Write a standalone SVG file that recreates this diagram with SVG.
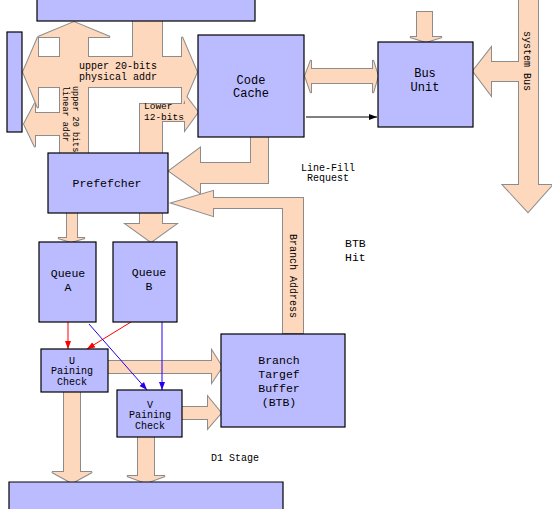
<svg xmlns="http://www.w3.org/2000/svg" xmlns:xlink="http://www.w3.org/1999/xlink" width="552" height="515" viewBox="0 0 552 515">
<style>
  .box { fill: #BBBBFF; stroke: #000; stroke-width: 1.2; }
  .fat { fill: #FDD8BD; }
  .fatline { fill: none; stroke: #8C8C8C; stroke-width: 2; stroke-linejoin: miter; }
  .t { font-family: "Liberation Mono", "DejaVu Sans Mono", monospace; fill: #000; text-anchor: middle; }
  .s10 { font-size: 10px; }
  .s11 { font-size: 11.5px; }
  .s12 { font-size: 12px; }
  .red { stroke: #FF0000; stroke-width: 1; fill: none; }
  .blue { stroke: #2200EE; stroke-width: 1; fill: none; }
  .blk { stroke: #000; stroke-width: 1; fill: none; }
</style>
<defs>
  <marker id="mr" viewBox="0 0 8 8" refX="8" refY="4" markerWidth="8" markerHeight="8" markerUnits="userSpaceOnUse" orient="auto">
    <path d="M0,1 L8,4 L0,7 Z" fill="#FF0000"/>
  </marker>
  <marker id="mb" viewBox="0 0 8 8" refX="8" refY="4" markerWidth="8" markerHeight="8" markerUnits="userSpaceOnUse" orient="auto">
    <path d="M0,1 L8,4 L0,7 Z" fill="#2200EE"/>
  </marker>
  <marker id="mk" viewBox="0 0 8 8" refX="8" refY="4" markerWidth="8" markerHeight="8" markerUnits="userSpaceOnUse" orient="auto">
    <path d="M0,1 L8,4 L0,7 Z" fill="#000"/>
  </marker>
  <path id="a1" d="M38,57 L182,57 L182,37 L197,72 L182,107 L182,87 L38,87 L38,108 L23,72 L38,37 Z"/>
  <path id="a2" d="M60,153 L60,37 L38,37 L74,22 L110,37 L88,37 L88,153 Z"/>
  <path id="a3" d="M62,113 L35,113 L35,103 L24,124 L35,147 L35,135 L62,135 Z"/>
  <path id="a4" d="M133,21 L162,21 L162,58 L133,58 Z"/>
  <path id="a5" d="M140,153 L140,104 L185,104 L185,95 L198,112 L185,130 L185,121 L162,121 L162,153 Z"/>
  <path id="a6" d="M305,76 L311,60 L311,69 L373,69 L373,60 L378,76 L373,93 L373,83 L311,83 L311,93 Z"/>
  <path id="a7" d="M417,12 L432,12 L432,37 L442,37 L426,42 L410,37 L417,37 Z"/>
  <path id="a8" d="M519,0 L538,0 L538,185 L552,185 L528,212 L503,185 L519,185 Z"/>
  <path id="a9" d="M520,62 L491,62 L491,48 L473,71 L491,95 L491,81 L520,81 Z"/>
  <path id="a10" d="M268,137 L268,183 L200,183 L200,193 L169,171 L200,148 L200,163 L251,163 L251,137 Z"/>
  <path id="a11" d="M303,333 L283,333 L283,208 L213,208 L213,216 L172,203 L213,191 L213,198 L303,198 Z"/>
  <path id="a12" d="M67,213 L77,213 L77,238 L85,238 L71,242 L58,238 L67,238 Z"/>
  <path id="a13" d="M140,213 L162,213 L162,224 L176,224 L151,242 L126,224 L140,224 Z"/>
  <path id="a14" d="M108,361 L212,361 L212,351 L222,367 L212,382 L212,373 L108,373 Z"/>
  <path id="a15" d="M182,407 L208,407 L208,397 L221,413 L208,428 L208,419 L182,419 Z"/>
  <path id="a16" d="M64,392 L80,392 L80,472 L92,472 L72,483 L52,472 L64,472 Z"/>
  <path id="a17" d="M138,437 L154,437 L154,476 L165,476 L146,483 L127,476 L138,476 Z"/>
</defs>
<rect width="552" height="515" fill="#FFFFFF"/>

<g id="connectors">
  <g class="fatline">
    <use xlink:href="#a1"/><use xlink:href="#a2"/><use xlink:href="#a3"/><use xlink:href="#a4"/>
    <use xlink:href="#a5"/><use xlink:href="#a6"/><use xlink:href="#a7"/><use xlink:href="#a8"/>
    <use xlink:href="#a9"/><use xlink:href="#a10"/><use xlink:href="#a11"/><use xlink:href="#a12"/>
    <use xlink:href="#a13"/><use xlink:href="#a14"/><use xlink:href="#a15"/><use xlink:href="#a16"/>
    <use xlink:href="#a17"/>
  </g>
  <g class="fat">
    <use xlink:href="#a1"/><use xlink:href="#a2"/><use xlink:href="#a3"/><use xlink:href="#a4"/>
    <use xlink:href="#a5"/><use xlink:href="#a6"/><use xlink:href="#a7"/><use xlink:href="#a8"/>
    <use xlink:href="#a9"/><use xlink:href="#a10"/><use xlink:href="#a11"/><use xlink:href="#a12"/>
    <use xlink:href="#a13"/><use xlink:href="#a14"/><use xlink:href="#a15"/><use xlink:href="#a16"/>
    <use xlink:href="#a17"/>
  </g>
  <line class="red" x1="68" y1="322" x2="68" y2="349" marker-end="url(#mr)"/>
  <line class="red" x1="131" y1="322" x2="87" y2="349" marker-end="url(#mr)"/>
  <line class="blue" x1="89" y1="324" x2="147" y2="390" marker-end="url(#mb)"/>
  <line class="blue" x1="162" y1="322" x2="162" y2="390" marker-end="url(#mb)"/>
  <line class="blk" x1="306" y1="117" x2="377" y2="117" marker-end="url(#mk)"/>

  <text class="t s10" x="118" y="68.5">upper 20-bits</text>
  <text class="t s10" x="118" y="79.5">physical addr</text>
  <text class="t" style="font-size:8.5px;text-anchor:start" transform="translate(76,86) rotate(90)" y="3">upper 20 bits</text>
  <text class="t" style="font-size:8.5px;text-anchor:start" transform="translate(66,86) rotate(90)" y="3">linear addr</text>
  <text class="t" style="font-size:9.5px;text-anchor:start" x="144" y="109">Lower</text>
  <text class="t" style="font-size:9.5px;text-anchor:start" x="144" y="120">12-bits</text>
  <text class="t s10" x="328" y="170.5">Line-Fill</text>
  <text class="t s10" x="328" y="180.5">Request</text>
  <text class="t s10" transform="translate(293,276) rotate(90)" y="3.5">Branch Address</text>
  <text class="t s10" transform="translate(527,61) rotate(90)" y="3.5">system Bus</text>
  <text class="t s11" style="text-anchor:start" x="345" y="247">BTB</text>
  <text class="t s11" style="text-anchor:start" x="345" y="261">Hit</text>
  <text class="t s10" x="235" y="460.5">D1 Stage</text>
</g>

<g id="top-box"><rect class="box" x="37" y="-2" width="218" height="23"/></g>
<g id="left-box"><rect class="box" x="7" y="32" width="15" height="100"/></g>

<g id="code-cache">
  <rect class="box" x="198" y="35" width="106" height="102"/>
  <text class="t s12" x="251" y="84">Code</text>
  <text class="t s12" x="251" y="97">Cache</text>
</g>

<g id="bus-unit">
  <rect class="box" x="378" y="42" width="95" height="85"/>
  <text class="t s12" x="425" y="77">Bus</text>
  <text class="t s12" x="425" y="91">Unit</text>
</g>

<g id="prefetcher">
  <rect class="box" x="48" y="153" width="120" height="60"/>
  <text class="t s11" x="107" y="187">Prefefcher</text>
</g>

<g id="queue-a">
  <rect class="box" x="39" y="242" width="57" height="80"/>
  <text class="t s11" x="68" y="277">Queue</text>
  <text class="t s11" x="68" y="291">A</text>
</g>

<g id="queue-b">
  <rect class="box" x="113" y="242" width="64" height="80"/>
  <text class="t s11" x="149" y="276">Queue</text>
  <text class="t s11" x="149" y="290">B</text>
</g>

<g id="u-check">
  <rect class="box" x="41" y="349" width="67" height="43"/>
  <text class="t s10" x="72" y="363.5">U</text>
  <text class="t s10" x="72" y="374">Paining</text>
  <text class="t s10" x="72" y="384.5">Check</text>
</g>

<g id="v-check">
  <rect class="box" x="117" y="390" width="65" height="47"/>
  <text class="t s10" x="150" y="407.5">V</text>
  <text class="t s10" x="150" y="418">Paining</text>
  <text class="t s10" x="150" y="428.5">Check</text>
</g>

<g id="btb">
  <rect class="box" x="221" y="334" width="124" height="93"/>
  <text class="t s11" x="279" y="364">Branch</text>
  <text class="t s11" x="279" y="378">Targef</text>
  <text class="t s11" x="279" y="392">Buffer</text>
  <text class="t s11" x="279" y="406">(BTB)</text>
</g>

<g id="bottom-box">
  <rect x="9" y="482" width="274" height="27" fill="#BBBBFF"/>
  <path d="M9,509 L9,482 L283,482 L283,509" fill="none" stroke="#000" stroke-width="1.2"/>
</g>
</svg>
